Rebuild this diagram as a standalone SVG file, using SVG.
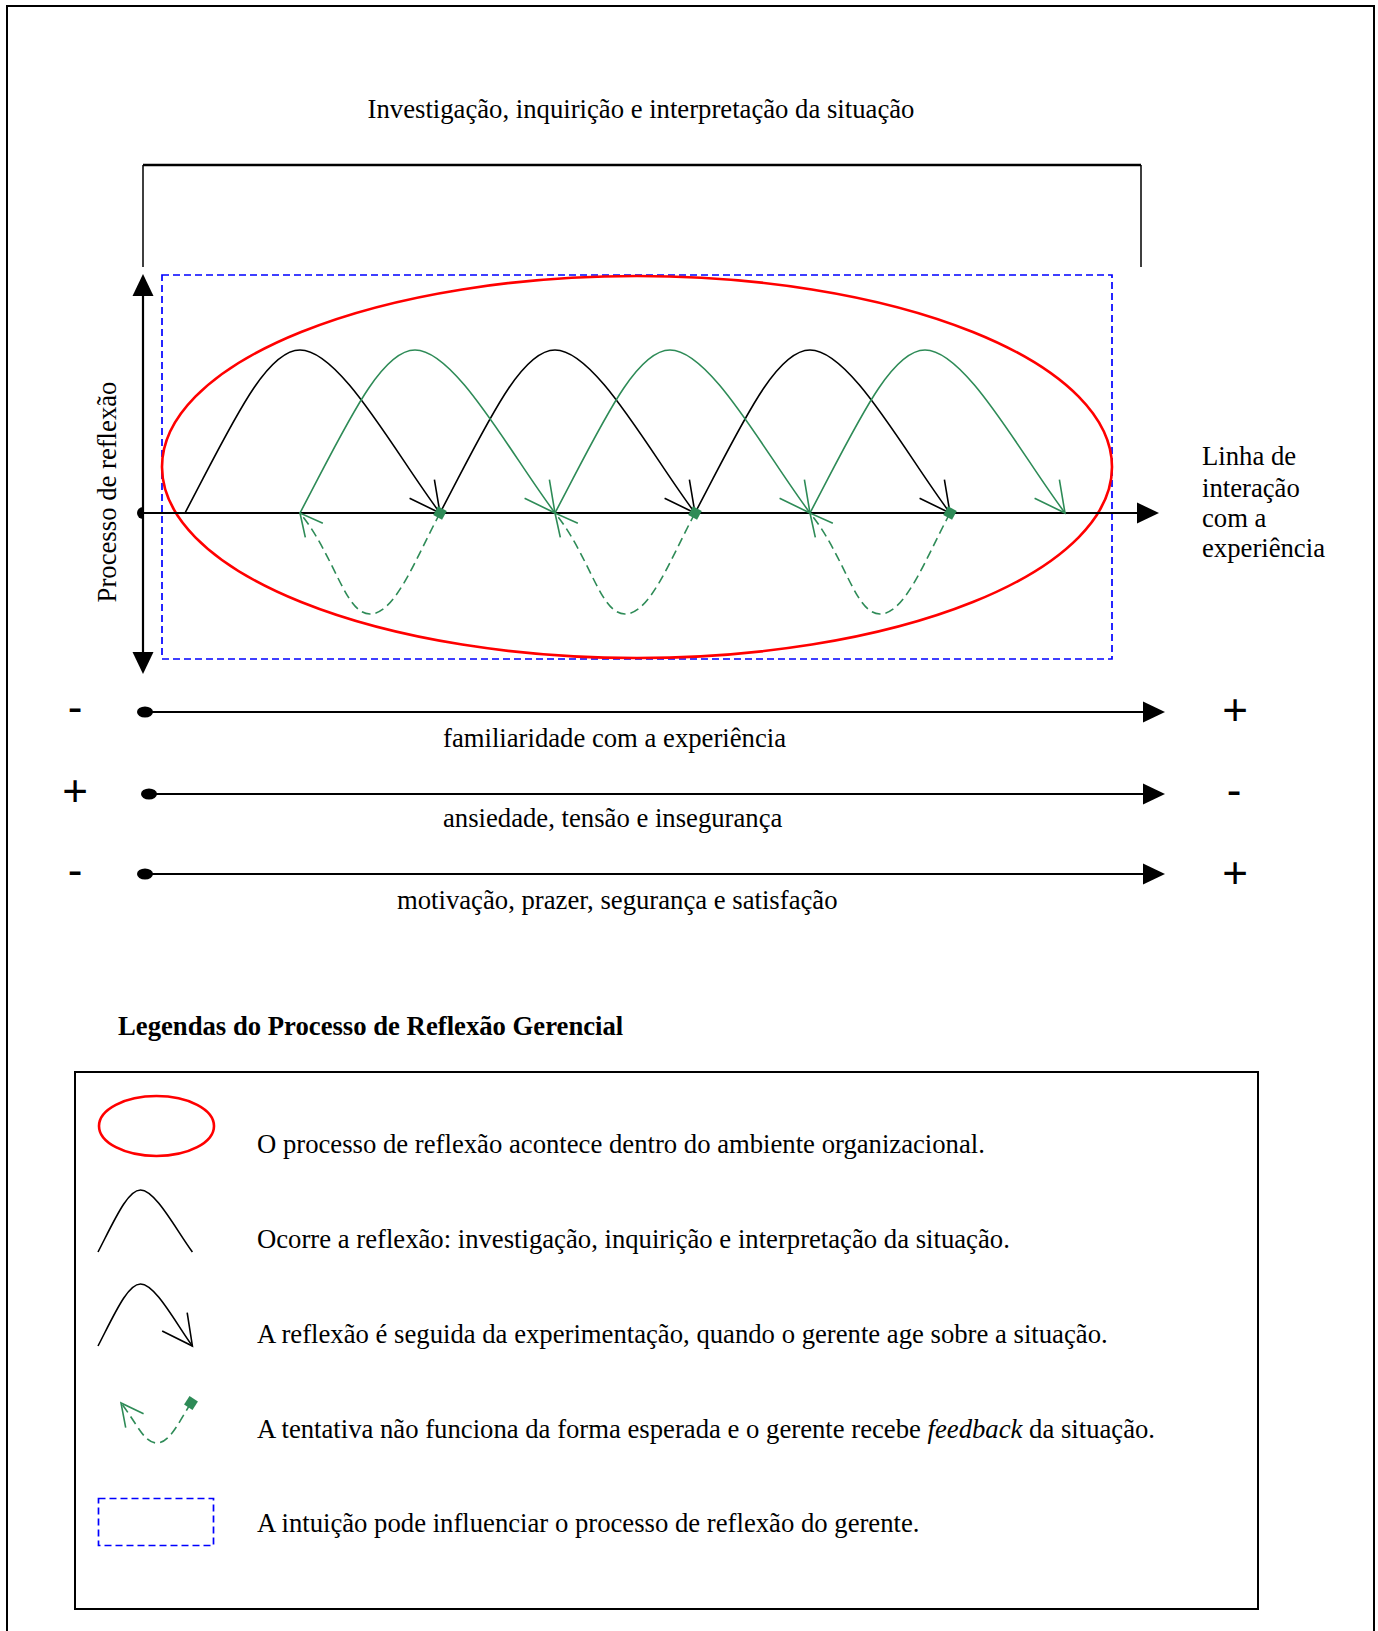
<svg xmlns="http://www.w3.org/2000/svg" width="1378" height="1631" viewBox="0 0 1378 1631">
<defs>
<style>
text{font-family:"Liberation Serif","Times New Roman",serif;font-size:26.7px;fill:#000}
.bold{font-weight:bold}
.sign{font-family:"Liberation Sans",Arial,sans-serif;font-size:44px;text-anchor:middle}
.blk{fill:none;stroke:#000;stroke-width:1.6}
.grn{fill:none;stroke:#2e8b57;stroke-width:1.6}
.fb{fill:none;stroke:#2e8b57;stroke-width:1.6;stroke-dasharray:9 5}
.ax{fill:none;stroke:#000;stroke-width:2.2}
.frame{fill:none;stroke:#000;stroke-width:2}
.ell{fill:none;stroke:#ff0000;stroke-width:2.6}
.intu{fill:none;stroke:#0000ff;stroke-width:1.7;stroke-dasharray:7 4}
</style>
<marker id="ahB" markerUnits="userSpaceOnUse" orient="auto" overflow="visible" markerWidth="1" markerHeight="1"><path d="M-30,-15.5L0,0L-30,15.5" fill="none" stroke="#000" stroke-width="1.6"/></marker>
<marker id="ahG" markerUnits="userSpaceOnUse" orient="auto" overflow="visible" markerWidth="1" markerHeight="1"><path d="M-30,-15.5L0,0L-30,15.5" fill="none" stroke="#2e8b57" stroke-width="1.6"/></marker>
<marker id="ahF" markerUnits="userSpaceOnUse" orient="auto" overflow="visible" markerWidth="1" markerHeight="1"><path d="M-22.3,-11.3L0,0L-22.3,11.3" fill="none" stroke="#2e8b57" stroke-width="1.6"/></marker>
<marker id="sq" markerUnits="userSpaceOnUse" orient="auto" overflow="visible" markerWidth="1" markerHeight="1"><rect x="-5" y="-5" width="10" height="10" fill="#2e8b57"/></marker>
<marker id="ahFill" markerUnits="userSpaceOnUse" orient="auto-start-reverse" overflow="visible" markerWidth="1" markerHeight="1"><path d="M0,-10.5L22,0L0,10.5Z" fill="#000"/></marker>
</defs>
<rect width="1378" height="1631" fill="#fff"/>
<path class="frame" d="M7,1631V6H1374V1631"/>

<g id="title">
<text x="641" y="118" text-anchor="middle">Investigação, inquirição e interpretação da situação</text>
</g>
<g id="bracket">
<path d="M143,165H1141" stroke="#000" stroke-width="2.5" fill="none"/>
<path d="M143,165V267M1141,165V267" stroke="#000" stroke-width="1.5" fill="none"/>
</g>

<g id="intuition-box"><rect class="intu" x="162" y="275" width="950" height="384"/></g>
<g id="environment"><ellipse class="ell" cx="637" cy="467" rx="475" ry="191"/></g>

<g id="axes">
<path class="ax" d="M143,296V652" marker-start="url(#ahFill)" marker-end="url(#ahFill)"/>
<path class="ax" d="M143,513H1137" stroke-width="2" marker-end="url(#ahFill)"/>
<path d="M143,507A6,6 0 0 0 143,519Z" fill="#000"/>
<text transform="translate(116,492) rotate(-90)" text-anchor="middle">Processo de reflexão</text>
<text x="1202" y="465">Linha de</text>
<text x="1202" y="497">interação</text>
<text x="1202" y="527">com a</text>
<text x="1202" y="557">experiência</text>
</g>

<g id="connectors">
<path class="blk" d="M185,513C230,428 265,350 300,350C340,350 395,453 440,513" marker-end="url(#ahB)"/>
<path class="blk" d="M440,513C485,428 520,350 555,350C595,350 650,453 695,513" marker-end="url(#ahB)"/>
<path class="blk" d="M695,513C740,428 775,350 810,350C850,350 905,453 950,513" marker-end="url(#ahB)"/>
<path class="grn" d="M300,513C345,428 380,350 415,350C455,350 510,453 555,513" marker-end="url(#ahG)"/>
<path class="grn" d="M555,513C600,428 635,350 670,350C710,350 765,453 810,513" marker-end="url(#ahG)"/>
<path class="grn" d="M810,513C855,428 890,350 925,350C965,350 1020,453 1065,513" marker-end="url(#ahG)"/>
<path class="fb" d="M440,513C415,560 395,614 370,614C345,614 335,556 300,513" marker-start="url(#sq)" marker-end="url(#ahF)"/>
<path class="fb" d="M695,513C670,560 650,614 625,614C600,614 590,556 555,513" marker-start="url(#sq)" marker-end="url(#ahF)"/>
<path class="fb" d="M950,513C925,560 905,614 880,614C855,614 845,556 810,513" marker-start="url(#sq)" marker-end="url(#ahF)"/>
</g>

<g id="scale-familiaridade">
<ellipse cx="145" cy="712" rx="8" ry="5.5"/>
<path class="ax" d="M145,712H1143" stroke-width="2" marker-end="url(#ahFill)"/>
<text class="sign" x="75" y="722">-</text>
<text class="sign" x="1235" y="724.5">+</text>
<text x="443" y="747">familiaridade com a experiência</text>
</g>
<g id="scale-ansiedade">
<ellipse cx="149" cy="794" rx="8" ry="5.5"/>
<path class="ax" d="M149,794H1143" stroke-width="2" marker-end="url(#ahFill)"/>
<text class="sign" x="75" y="805.5">+</text>
<text class="sign" x="1234" y="805">-</text>
<text x="443" y="827">ansiedade, tensão e insegurança</text>
</g>
<g id="scale-motivacao">
<ellipse cx="145" cy="874" rx="8" ry="5.5"/>
<path class="ax" d="M145,874H1143" stroke-width="2" marker-end="url(#ahFill)"/>
<text class="sign" x="75" y="885">-</text>
<text class="sign" x="1235" y="887.5">+</text>
<text x="397" y="909">motivação, prazer, segurança e satisfação</text>
</g>

<g id="legend">
<text class="bold" x="118" y="1035">Legendas do Processo de Reflexão Gerencial</text>
<rect class="frame" x="75" y="1072" width="1183" height="537"/>
<g id="legend-ellipse">
<ellipse class="ell" cx="156.5" cy="1126" rx="57.5" ry="30"/>
<text x="257" y="1153">O processo de reflexão acontece dentro do ambiente organizacional.</text>
</g>
<g id="legend-reflexao">
<path class="blk" d="M98,1252C114.7,1219.7 127.6,1190 140.5,1190C155.4,1190 175.7,1229.2 192.4,1252"/>
<text x="257" y="1248">Ocorre a reflexão: investigação, inquirição e interpretação da situação.</text>
</g>
<g id="legend-experimentacao">
<path class="blk" d="M98,1346C114.7,1313.7 127.6,1284 140.5,1284C155.4,1284 175.7,1323.2 192.4,1346" marker-end="url(#ahB)"/>
<text x="257" y="1343">A reflexão é seguida da experimentação, quando o gerente age sobre a situação.</text>
</g>
<g id="legend-feedback">
<path class="fb" d="M191,1403C180,1420 170,1443 157,1443C144,1443 138,1425 121,1403" marker-start="url(#sq)" marker-end="url(#ahF)"/>
<text x="257" y="1438">A tentativa não funciona da forma esperada e o gerente recebe <tspan font-style="italic">feedback</tspan> da situação.</text>
</g>
<g id="legend-intuicao">
<rect class="intu" x="98.5" y="1498.5" width="115" height="47"/>
<text x="257" y="1532">A intuição pode influenciar o processo de reflexão do gerente.</text>
</g>
</g>
</svg>
